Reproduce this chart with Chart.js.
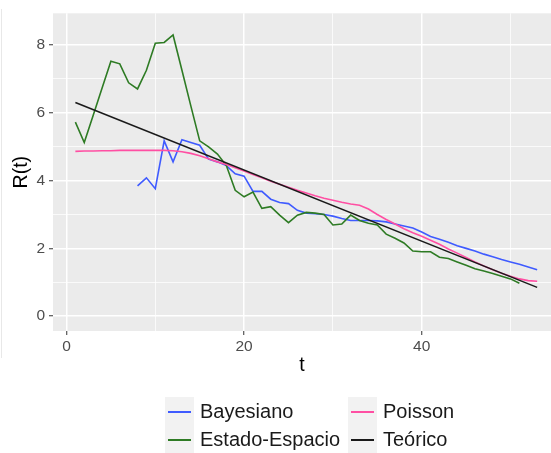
<!DOCTYPE html>
<html>
<head>
<meta charset="utf-8">
<script src="https://cdn.jsdelivr.net/npm/chart.js@4.4.0/dist/chart.umd.min.js"></script>
<style>
  html, body { margin: 0; padding: 0; background: #fff; overflow: hidden; }
</style>
</head>
<body>
<canvas id="chart" width="551" height="453"></canvas>
<script>
// R(t) by day
const bayesT = [8, 9, 10, 11, 12, 13, 14, 15, 16, 17, 18, 19, 20, 21, 22, 23, 24, 25, 26, 27, 28, 29, 30,
  31, 32, 33, 34, 35, 36, 37, 38, 39, 40, 41, 42, 43, 44, 45, 46, 47, 48, 49, 50, 51, 52, 53];
const bayesR = [3.84, 4.08, 3.76, 5.17, 4.55, 5.2, 5.12, 5.04, 4.63, 4.55, 4.44, 4.2, 4.13,
  3.68, 3.68, 3.45, 3.35, 3.32, 3.12, 3.04, 3.02, 3.0, 2.95,
  2.88, 2.82, 2.82, 2.82, 2.81, 2.78, 2.72, 2.66, 2.6, 2.48,
  2.35, 2.27, 2.18, 2.08, 2.0, 1.92, 1.83, 1.75, 1.67, 1.6, 1.53, 1.45, 1.37];

const estadoT = [1, 2, 3, 4, 5, 6, 7, 8, 9, 10, 11, 12, 13, 14, 15, 16, 17, 18, 19, 20, 21, 22, 23, 24, 25,
  26, 27, 28, 29, 30, 31, 32, 33, 34, 35, 36, 37, 38, 39, 40, 41, 42, 43, 44, 45, 46, 47, 48, 49, 50, 51];
const estadoR = [5.72, 5.12, 5.92, 6.72, 7.52, 7.44, 6.88, 6.7, 7.25, 8.05,
  8.07, 8.29, 7.25, 6.2, 5.17, 4.99, 4.78, 4.44, 3.71, 3.52,
  3.66, 3.18, 3.23, 2.98, 2.76, 2.98, 3.06, 3.04, 3.0, 2.69,
  2.72, 2.98, 2.82, 2.74, 2.69, 2.42, 2.3, 2.16, 1.92, 1.9,
  1.9, 1.74, 1.7, 1.6, 1.5, 1.4, 1.33, 1.26, 1.18, 1.1, 0.97];

const poissonT = [1, 2, 3, 4, 5, 6, 7, 8, 9, 10, 11, 12, 13, 14, 15, 16, 17, 18, 19, 20, 21, 22, 23, 24, 25,
  26, 27, 28, 29, 30, 31, 32, 33, 34, 35, 36, 37, 38, 39, 40, 41, 42, 43, 44, 45, 46, 47, 48, 49, 50, 51, 52, 53];
const poissonR = [4.86, 4.87, 4.87, 4.88, 4.88, 4.89, 4.89, 4.89, 4.89, 4.89,
  4.89, 4.88, 4.85, 4.8, 4.73, 4.64, 4.55, 4.47, 4.38, 4.28,
  4.18, 4.08, 3.98, 3.89, 3.8, 3.71, 3.63, 3.55, 3.48, 3.42,
  3.36, 3.31, 3.27, 3.16, 3.0, 2.85, 2.72, 2.58, 2.46, 2.36,
  2.24, 2.12, 1.98, 1.86, 1.73, 1.6, 1.48, 1.37, 1.27, 1.18, 1.1, 1.05, 1.03];

const teoricoT = [1, 53];
const teoricoR = [6.3, 0.85];

const seriesNames = ['Bayesiano', 'Estado-Espacio', 'Poisson', 'Teórico'];
const seriesColors = ['#3f5bff', '#2e7b24', '#ff4fa3', '#1a1a1a'];

const xBreaks = [0, 10, 20, 30, 40, 50];
const xLabels = [0, 20, 40];
const yBreaks = [0, 1, 2, 3, 4, 5, 6, 7, 8];
const yLabels = [0, 2, 4, 6, 8];

const toPoints = (ts, rs) => ts.map((t, i) => ({ x: t, y: rs[i] }));
const allT = [bayesT, estadoT, poissonT, teoricoT];
const allR = [bayesR, estadoR, poissonR, teoricoR];

// grey panel like ggplot
const panelBg = {
  id: 'panelBg',
  beforeDraw(chart) {
    const { ctx, chartArea: a } = chart;
    ctx.save();
    ctx.fillStyle = '#ebebeb';
    ctx.fillRect(a.left, a.top, a.right - a.left, a.bottom - a.top);
    // faint frame line on the left of the picture
    ctx.strokeStyle = '#e8e8e8';
    ctx.lineWidth = 1;
    ctx.beginPath();
    ctx.moveTo(1.5, 9);
    ctx.lineTo(1.5, 358);
    ctx.stroke();
    ctx.restore();
  }
};

// two-column legend at the bottom, filled column by column
const ggLegend = {
  id: 'ggLegend',
  afterDraw(chart) {
    const ctx = chart.ctx;
    const colX = [165, 348];
    const rowY = [397, 425];
    ctx.save();
    ctx.font = '20px "Liberation Sans", Arial, sans-serif';
    ctx.textBaseline = 'middle';
    seriesNames.forEach((name, i) => {
      const x = colX[Math.floor(i / 2)];
      const y = rowY[i % 2];
      ctx.fillStyle = '#f2f2f2';
      ctx.fillRect(x, y, 29, 28);
      ctx.strokeStyle = seriesColors[i];
      ctx.lineWidth = 2;
      ctx.beginPath();
      ctx.moveTo(x + 3, y + 15);
      ctx.lineTo(x + 26, y + 15);
      ctx.stroke();
      ctx.fillStyle = '#1a1a1a';
      ctx.fillText(name, x + 35, y + 15);
    });
    ctx.restore();
  }
};

Chart.defaults.font.family = '"Liberation Sans", Arial, sans-serif';

new Chart(document.getElementById('chart'), {
  type: 'line',
  data: {
    datasets: seriesNames.map((name, i) => ({
      label: name,
      data: toPoints(allT[i], allR[i]),
      borderColor: seriesColors[i],
      borderWidth: 1.6,
      pointRadius: 0,
      tension: 0,
      fill: false,
      order: 4 - i
    }))
  },
  options: {
    responsive: false,
    animation: false,
    devicePixelRatio: 1,
    layout: { padding: { top: 9, left: 0, right: 0, bottom: 0 } },
    plugins: { legend: { display: false }, tooltip: { enabled: false } },
    scales: {
      x: {
        type: 'linear',
        min: -1.52,
        max: 54.56,
        afterBuildTicks: s => { s.ticks = xBreaks.map(v => ({ value: v })); },
        afterFit: s => { s.height = 122; },
        ticks: {
          callback: v => xLabels.includes(v) ? String(v) : '',
          color: '#4d4d4d',
          font: { size: 15.5 },
          padding: 2,
          maxRotation: 0,
          autoSkip: false
        },
        grid: {
          color: '#ffffff',
          lineWidth: c => xLabels.includes(c.tick.value) ? 1.5 : 0.75,
          tickLength: 4,
          tickWidth: 1,
          tickColor: c => xLabels.includes(c.tick.value) ? '#333333' : 'rgba(0,0,0,0)'
        },
        border: { display: false },
        title: { display: true, text: 't', color: '#000', font: { size: 19.5 }, padding: { top: 0, bottom: 76 } }
      },
      y: {
        type: 'linear',
        min: -0.436,
        max: 8.93,
        afterBuildTicks: s => { s.ticks = yBreaks.map(v => ({ value: v })); },
        afterFit: s => { s.width = 53; },
        ticks: {
          callback: v => yLabels.includes(v) ? String(v) : '',
          color: '#4d4d4d',
          font: { size: 15.5 },
          padding: 4,
          autoSkip: false
        },
        grid: {
          color: '#ffffff',
          lineWidth: c => yLabels.includes(c.tick.value) ? 1.5 : 0.75,
          tickLength: 4,
          tickWidth: 1,
          tickColor: c => yLabels.includes(c.tick.value) ? '#333333' : 'rgba(0,0,0,0)'
        },
        border: { display: false },
        title: { display: true, text: 'R(t)', color: '#000', font: { size: 19.5 }, padding: { top: 10, bottom: 0 } }
      }
    }
  },
  plugins: [panelBg, ggLegend]
});
</script>
</body>
</html>
